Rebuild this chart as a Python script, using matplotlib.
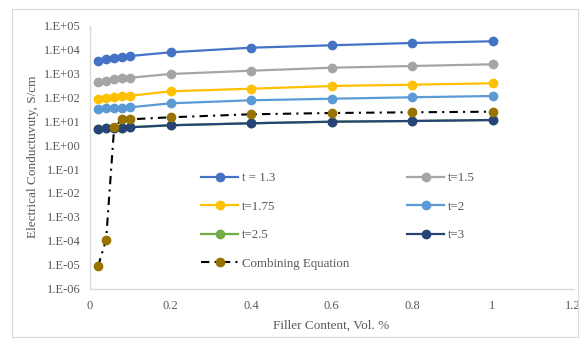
import math
import matplotlib.pyplot as plt
from matplotlib.patches import Rectangle
from matplotlib.ticker import FixedLocator, FuncFormatter, NullLocator

plt.rcParams['font.family'] = ['Liberation Serif', 'DejaVu Serif']

# filler content, vol. %
x = [0.02, 0.04, 0.06, 0.08, 0.1, 0.2, 0.4, 0.6, 0.8, 1.0]

t13 = [3190, 3800, 4300, 4800, 5310, 7590, 11800, 14900, 18600, 21900]
t15 = [449, 500, 560, 610, 658, 940, 1290, 1720, 2030, 2390]
t175 = [87, 95, 102, 109, 116, 178, 228, 296, 336, 385]
t2 = [32.4, 34, 35.5, 37, 38.2, 56, 75, 87, 100, 113]
t25 = [4.9, 5.0, 5.2, 5.4, 5.6, 6.8, 8.2, 9.5, 10.2, 11.2]
t3 = [4.86, 5.0, 5.2, 5.4, 5.57, 6.76, 8.2, 9.55, 10.2, 11.2]
combining = [8.7e-6, 1.1e-4, 5.57, 12, 12, 14.6, 19.5, 22, 23.6, 25]

labels = ['t = 1.3', 't=1.5', 't=1.75', 't=2', 't=2.5', 't=3']
colors = ['#4472C4', '#A5A5A5', '#FFC000', '#5B9BD5', '#70AD47', '#264478']
series = [t13, t15, t175, t2, t25, t3]

fig = plt.figure(figsize=(5.8, 3.38), dpi=100)
W, H = 580, 338
ax = fig.add_axes([90 / W, 1 - 288.7 / H, (573 - 90) / W, (288.7 - 25.5) / H])

# chart border
fig.patches.append(Rectangle((12 / W, 1 - 337 / H), 566 / W, 328 / H,
                             transform=fig.transFigure, fill=False,
                             edgecolor='#D9D9D9', lw=0.8))

handles = []
for ys, lab, c in zip(series, labels, colors):
    h, = ax.plot(x, ys, color=c, lw=1.6, marker='o', ms=6, label=lab)
    handles.append(h)

hc, = ax.plot(x, combining, color='black', lw=1.5, marker='o', ms=6,
              mfc='#997300', mec='#997300', label='Combining Equation')
hc.set_dashes((4, 2.5, 1, 2.5))

ax.set_yscale('log')
ax.set_ylim(1e-6, 1e5)
ax.set_xlim(0, 1.2)
ax.yaxis.set_major_locator(FixedLocator([10.0 ** k for k in range(-6, 6)]))
ax.yaxis.set_minor_locator(NullLocator())
ax.yaxis.set_major_formatter(FuncFormatter(
    lambda v, p: '1.E%+03d' % round(math.log10(v))))
ax.set_xticks([0, 0.2, 0.4, 0.6, 0.8, 1.0, 1.2])
ax.set_xticklabels(['0', '0.2', '0.4', '0.6', '0.8', '1', '1.2'])

for s in ['top', 'right']:
    ax.spines[s].set_visible(False)
for s in ['left', 'bottom']:
    ax.spines[s].set_color('#D9D9D9')
    ax.spines[s].set_linewidth(1)
ax.tick_params(length=0, labelsize=9, colors='#595959', pad=7)
ax.tick_params(axis='x', pad=8)

ax.set_xlabel('Filler Content, Vol. %', fontsize=9.5, color='#595959', labelpad=6)
ax.set_ylabel('Electrical Conductuvuty, S/cm', fontsize=9.5, color='#595959', labelpad=3)

order = [handles[0], handles[2], handles[4], hc, handles[1], handles[3], handles[5]]
leg = ax.legend(handles=order, ncol=2, loc='upper left',
                bbox_to_anchor=((196 - 90) / (573 - 90), 1 - (167 - 25.5) / (288.7 - 25.5)),
                frameon=False, fontsize=9.3, handlelength=2.85, columnspacing=4.5,
                labelspacing=1.27, handletextpad=0.3, borderaxespad=0)
for t in leg.get_texts():
    t.set_color('#595959')

fig.savefig('out.png', dpi=100)
